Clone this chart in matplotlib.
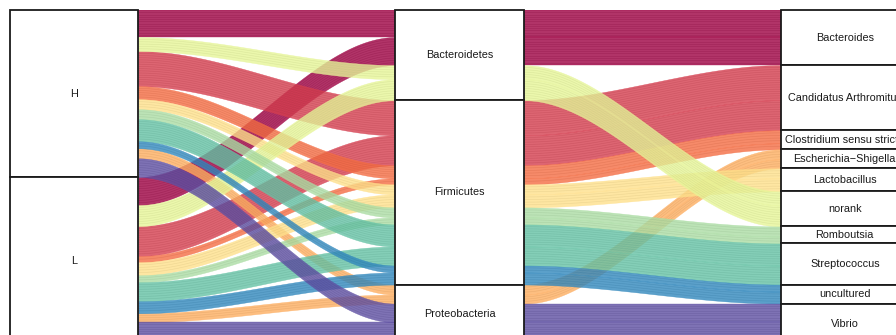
import numpy as np
import matplotlib
matplotlib.use("Agg")
import matplotlib.pyplot as plt
from matplotlib.patches import Rectangle
from matplotlib.colors import to_rgb

plt.rcParams['font.family'] = ['Liberation Sans', 'DejaVu Sans']

# ---- data -------------------------------------------------------------
groups = ["H", "L"]
phyla = ["Bacteroidetes", "Firmicutes", "Proteobacteria"]
genera = ["Bacteroides", "Candidatus Arthromitus", "Clostridium sensu stricto",
          "Escherichia\u2212Shigella", "Lactobacillus", "norank", "Romboutsia",
          "Streptococcus", "uncultured", "Vibrio"]
genus_phylum = ["Bacteroidetes", "Firmicutes", "Firmicutes", "Proteobacteria",
                "Firmicutes", "Bacteroidetes", "Firmicutes", "Firmicutes",
                "Firmicutes", "Proteobacteria"]
# relative abundance (%) of each genus in the two groups
abund_H = [16.2, 21.0, 7.8, 6.0, 6.0, 8.4, 6.0, 13.2, 4.2, 11.2]
abund_L = [16.8, 18.0, 3.6, 5.4, 7.8, 12.6, 4.2, 11.4, 7.2, 13.0]
palette = ["#9E0142", "#D53E4F", "#F46D43", "#FDAE61", "#FEE08B",
           "#E6F598", "#ABDDA4", "#66C2A5", "#3288BD", "#5E4FA2"]

# ---- layout -------------------------------------------------------------
W, H_IN, DPI = 8.96, 3.35, 100
fig = plt.figure(figsize=(W, H_IN), dpi=DPI)
fig.patch.set_facecolor("white")
# the panel runs slightly past the right and bottom edges of the canvas
ax = fig.add_axes([10 / 896, -9 / 335, 899 / 896, 334 / 335])
ax.set_axis_off()

width = 1 / 3
centers = [1, 2, 3]
abund = {"H": abund_H, "L": abund_L}
total = sum(abund_H) + sum(abund_L)
ax.set_xlim(1 - width / 2, 3 + width / 2)
ax.set_ylim(0, total)

# alluvia: one per (group, genus)
alluvia = []
for g in groups:
    for i, gen in enumerate(genera):
        alluvia.append(dict(group=g, gi=i, phylum=genus_phylum[i],
                            value=abund[g][i]))


def stack(keys_sorted):
    """Return top-down (upper, lower) y-extent for each alluvium index."""
    pos = {}
    start = 0.0
    for idx in keys_sorted:
        v = alluvia[idx]["value"]
        pos[idx] = (total - start, total - start - v)
        start += v
    return pos


idxs = list(range(len(alluvia)))
# axis 1: groups, lodes ordered by phylum then genus
pos1 = stack(sorted(idxs, key=lambda k: (groups.index(alluvia[k]["group"]),
                                         phyla.index(alluvia[k]["phylum"]),
                                         alluvia[k]["gi"])))
# axis 2: phyla, lodes ordered by genus then group
pos2 = stack(sorted(idxs, key=lambda k: (phyla.index(alluvia[k]["phylum"]),
                                         alluvia[k]["gi"],
                                         groups.index(alluvia[k]["group"]))))
# axis 3: genera, lodes ordered by group
pos3 = stack(sorted(idxs, key=lambda k: (alluvia[k]["gi"],
                                         groups.index(alluvia[k]["group"]))))

t = np.linspace(0, 1, 200)
s = t * t * (3 - 2 * t)


def flow(x0, x1, a, b, color, z):
    xs = x0 + (x1 - x0) * t
    up = a[0] + (b[0] - a[0]) * s
    lo = a[1] + (b[1] - a[1]) * s
    ax.fill_between(xs, lo, up, facecolor=color, edgecolor=color,
                    alpha=0.8, lw=0.3, zorder=z)
    # fine striation inside the ribbon
    dark = tuple(c * 0.8 for c in to_rgb(color))
    n = max(2, int((a[0] - a[1]) / 1.3))
    for f in np.linspace(0, 1, n + 1)[1:-1]:
        ax.plot(xs, lo + (up - lo) * f, color=dark, lw=0.5, alpha=0.28,
                zorder=z + 0.01, solid_capstyle="butt")


x1r = centers[0] + width / 2
x2l = centers[1] - width / 2
x2r = centers[1] + width / 2
x3l = centers[2] - width / 2

# later genera are drawn on top of earlier ones
draw_order = sorted(idxs, key=lambda k: (alluvia[k]["gi"],
                                         groups.index(alluvia[k]["group"])))
for n_, k in enumerate(draw_order):
    col = palette[alluvia[k]["gi"]]
    z = 1 + n_ * 0.05
    flow(x1r, x2l, pos1[k], pos2[k], col, z)
    flow(x2r, x3l, pos2[k], pos3[k], col, z)

# ---- strata -------------------------------------------------------------
def strata(cx, labels, sizes):
    start = 0.0
    for lab, v in zip(labels, sizes):
        top = total - start
        ax.add_patch(Rectangle((cx - width / 2, top - v), width, v,
                               facecolor="white", edgecolor="#1a1a1a",
                               lw=1.3, zorder=5, clip_on=False))
        ax.text(cx, top - v / 2, lab, ha="center", va="center",
                fontsize=7.8, color="#1a1a1a", zorder=6, clip_on=False)
        start += v


group_tot = [sum(abund_H), sum(abund_L)]
phylum_tot = [sum(a["value"] for a in alluvia if a["phylum"] == p) for p in phyla]
genus_tot = [abund_H[i] + abund_L[i] for i in range(len(genera))]

strata(centers[0], groups, group_tot)
strata(centers[1], phyla, phylum_tot)
strata(centers[2], genera, genus_tot)

fig.savefig("out.png", dpi=DPI)
